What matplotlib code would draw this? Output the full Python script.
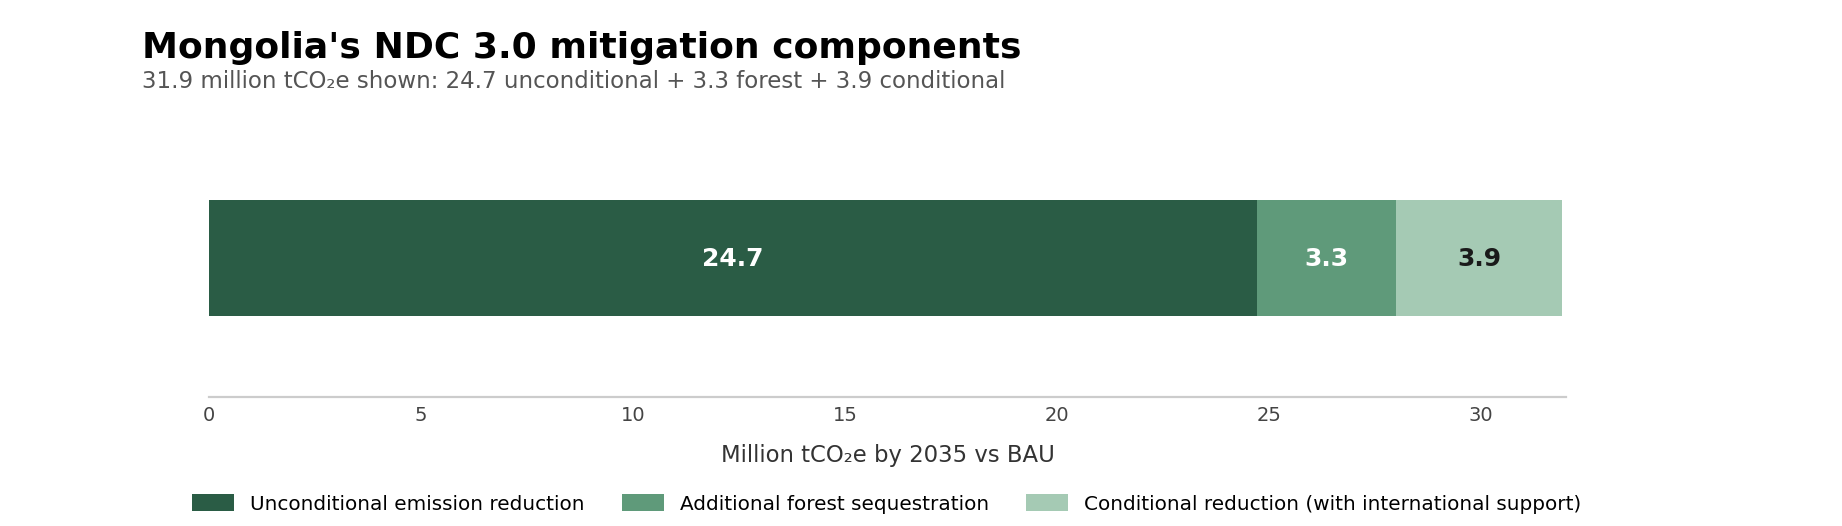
import matplotlib
matplotlib.use("Agg")
import matplotlib.pyplot as plt
import numpy as np

# data
components = ["Unconditional emission reduction",
              "Additional forest sequestration",
              "Conditional reduction (with international support)"]
values = [24.7, 3.3, 3.9]
colors = ["#2a5c45", "#5f9a7a", "#a5cab4"]
label_colors = ["white", "white", "#1a1a1a"]
xticks = [0, 5, 10, 15, 20, 25, 30]

fig = plt.figure(figsize=(9.21, 2.63), dpi=200)
ax = fig.add_axes([0.1135, 0.245, 0.7367, 0.529])

left = 0
for name, v, c, tc in zip(components, values, colors, label_colors):
    ax.barh(0, v, left=left, height=0.5, color=c, label=name)
    ax.text(left + v / 2, -0.005, f"{v:.1f}", ha="center", va="center",
            color=tc, fontsize=9, fontweight="bold")
    left += v

ax.set_xlim(0, 32)
ax.set_ylim(-0.6, 0.6)
ax.set_yticks([])
ax.set_xticks(xticks)
ax.tick_params(axis="x", length=0, pad=3.3, labelsize=7, labelcolor="#444444")
for s in ["top", "right", "left"]:
    ax.spines[s].set_visible(False)
ax.spines["bottom"].set_color("#cccccc")
ax.spines["bottom"].set_linewidth(0.8)
ax.set_xlabel("Million tCO₂e by 2035 vs BAU", fontsize=8.2, color="#333333", labelpad=6.6)

fig.text(0.077, 0.889, "Mongolia's NDC 3.0 mitigation components",
         fontsize=13, fontweight="bold", ha="left", va="baseline")
fig.text(0.077, 0.832, "31.9 million tCO₂e shown: 24.7 unconditional + 3.3 forest + 3.9 conditional",
         fontsize=8.25, color="#555555", ha="left", va="baseline")

fig.legend(loc="center", bbox_to_anchor=(0.4815, 0.042), ncol=3, frameon=False,
           fontsize=7.2, handlelength=2.1, handleheight=0.95, columnspacing=1.85)

fig.savefig("out.png", dpi=200)
